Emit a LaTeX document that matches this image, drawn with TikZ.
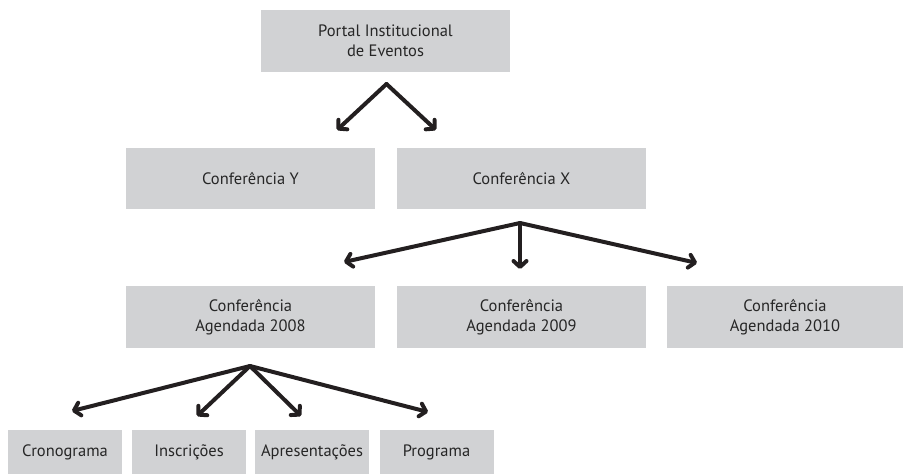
\documentclass[tikz,border=0pt]{standalone}
\usepackage{fontspec}
\setmainfont{PT Sans}
\usetikzlibrary{arrows.meta}
\definecolor{boxgray}{HTML}{D1D2D4}
\definecolor{ink}{HTML}{231F20}
\definecolor{txt}{HTML}{262626}
\begin{document}
\begin{tikzpicture}[x=1pt,y=-1pt,
  box/.style={rectangle, fill=boxgray, inner sep=0pt, text=txt, align=center,
    font=\fontsize{16.5}{20}\selectfont},
  conn/.style={draw=ink, line width=4pt, line cap=round, line join=round,
    -{Straight Barb[length=6pt,width=13pt,line cap=round,line join=round]}}]
\useasboundingbox (0,0) rectangle (908,474);
% level 1
\node[box, minimum width=249pt, minimum height=62pt] (portal) at (385.5,41) {Portal Institucional\\de Eventos};
% level 2
\node[box, minimum width=249pt, minimum height=61pt] (confY) at (250.5,178.5) {Conferência Y};
\node[box, minimum width=249pt, minimum height=61pt] (confX) at (521.5,178.5) {Conferência X};
% level 3
\node[box, minimum width=249pt, minimum height=62pt] (c2008) at (250.5,317) {Conferência\\Agendada 2008};
\node[box, minimum width=249pt, minimum height=62pt] (c2009) at (521.5,317) {Conferência\\Agendada 2009};
\node[box, minimum width=236pt, minimum height=62pt] (c2010) at (785,317) {Conferência\\Agendada 2010};
% level 4
\node[box, minimum width=114pt, minimum height=44pt] (crono) at (65,452) {Cronograma};
\node[box, minimum width=114pt, minimum height=44pt] (insc) at (189,452) {Inscrições};
\node[box, minimum width=114pt, minimum height=44pt] (apres) at (312,452) {Apresentações};
\node[box, minimum width=114pt, minimum height=44pt] (prog) at (436.5,452) {Programa};
% connector points
\coordinate (a1) at (386.5,84);
\coordinate (tY) at (337,130);
\coordinate (tX) at (436,130);
\coordinate (a2) at (520,223);
\coordinate (t08) at (344,262);
\coordinate (t09) at (520,269);
\coordinate (t10) at (697,263);
\coordinate (a3) at (250,366);
\coordinate (tCr) at (72,411);
\coordinate (tIn) at (197,416);
\coordinate (tAp) at (301,416);
\coordinate (tPr) at (428,412);
% connectors
\draw[conn] (a1) -- (tY);
\draw[conn] (a1) -- (tX);
\draw[conn] (a2) -- (t08);
\draw[conn] (a2) -- (t09);
\draw[conn] (a2) -- (t10);
\draw[conn] (a3) -- (tCr);
\draw[conn] (a3) -- (tIn);
\draw[conn] (a3) -- (tAp);
\draw[conn] (a3) -- (tPr);
\end{tikzpicture}
\end{document}
